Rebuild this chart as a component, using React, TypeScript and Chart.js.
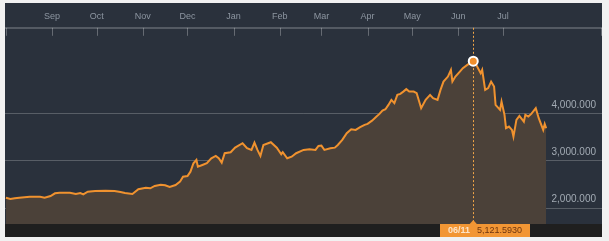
import React, { useEffect, useRef } from "react";
import { Chart, registerables } from "chart.js";

Chart.register(...registerables);

// ---- data ----
const START_DATE = "2014-08-01";
// trading-day offsets (days since START_DATE)
const dayOffsets = [
  0, 3, 6, 9, 16, 23, 26, 30, 33, 36, 43, 47, 50, 52, 55, 60, 67, 73, 77, 80,
  85, 89, 94, 97, 100, 104, 107, 110, 114, 117, 119, 122, 124, 126, 128, 129, 132, 135, 138, 141,
  143, 145, 147, 151, 154, 159, 162, 165, 167, 169, 171, 173, 178, 182, 185, 186, 189, 192, 195, 200,
  204, 208, 210, 212, 214, 218, 221, 223, 226, 229, 232, 235, 238, 241, 243, 246, 249, 251, 253, 255,
  257, 259, 261, 263, 265, 267, 269, 271, 274, 276, 279, 282, 285, 287, 290, 292, 294, 297, 299, 300,
  302, 305, 307, 310, 314, 316, 319, 320, 322, 324, 326, 328, 329, 332, 333, 335, 336, 338, 340, 341,
  343, 345, 348, 349, 351, 353, 356, 358, 361, 362, 363,
];
const closeValues = [
  2219, 2191, 2206, 2219, 2240, 2240, 2219, 2255, 2313, 2326, 2326, 2298, 2319, 2291, 2347, 2362, 2368, 2362, 2340, 2319,
  2298, 2398, 2432, 2419, 2468, 2496, 2483, 2447, 2489, 2560, 2666, 2681, 2772, 2951, 3021, 2879, 2915, 2951, 3057, 3106,
  3057, 2964, 3164, 3185, 3283, 3377, 3270, 3234, 3389, 3234, 3106, 3340, 3398, 3283, 3143, 3185, 3057, 3091, 3164, 3234,
  3249, 3234, 3319, 3326, 3234, 3270, 3283, 3340, 3447, 3589, 3674, 3660, 3717, 3766, 3787, 3857, 3943, 4000, 4070, 4100,
  4191, 4298, 4228, 4404, 4426, 4474, 4526, 4474, 4474, 4440, 4121, 4298, 4404, 4334, 4298, 4511, 4687, 4794, 4936, 4687,
  4794, 4900, 4972, 5043, 5121.593, 5043, 4866, 4936, 4511, 4547, 4687, 4581, 4191, 4085, 4262, 3979, 3696, 3730, 3660, 3517,
  3872, 3957, 3836, 3979, 3943, 4000, 4121, 3909, 3660, 3787, 3696,
];
const monthStarts = [
  "2014-09-01", "2014-10-01", "2014-11-01", "2014-12-01", "2015-01-01", "2015-02-01",
  "2015-03-01", "2015-04-01", "2015-05-01", "2015-06-01", "2015-07-01",
];
const monthLabels = ["Sep", "Oct", "Nov", "Dec", "Jan", "Feb", "Mar", "Apr", "May", "Jun", "Jul"];
const yTickValues = [2000, 3000, 4000];
const highlightDate = "06/11";
const highlightDay = 314;

// ---- helpers ----
const DAY_MS = 86400000;
const toDay = (s: string) => Math.round((Date.parse(s) - Date.parse(START_DATE)) / DAY_MS);
const monthDays = monthStarts.map(toDay);
const PANEL = { left: 5, top: 3, right: 602, bottom: 237 };
const FONT = '"Liberation Sans", Arial, sans-serif';

const framePlugin = {
  id: "frame",
  beforeDraw(chart: any) {
    const { ctx, width, height, chartArea: ca } = chart;
    ctx.save();
    ctx.fillStyle = "#f1f1f1";
    ctx.fillRect(0, 0, width, height);
    ctx.fillStyle = "#2a313c";
    ctx.fillRect(PANEL.left, PANEL.top, PANEL.right - PANEL.left, PANEL.bottom - PANEL.top);
    ctx.fillStyle = "#1f1f1f";
    ctx.fillRect(PANEL.left, ca.bottom, PANEL.right - PANEL.left, PANEL.bottom - ca.bottom);
    ctx.restore();
  },
  afterDatasetsDraw(chart: any) {
    const { ctx, chartArea: ca, scales } = chart;
    const idx = dayOffsets.indexOf(highlightDay);
    const px = Math.round(scales.x.getPixelForValue(highlightDay)) + 0.5;
    const py = scales.y.getPixelForValue(closeValues[idx]);
    ctx.save();
    ctx.strokeStyle = "#f2a546";
    ctx.lineWidth = 1;
    ctx.setLineDash([2, 2]);
    ctx.beginPath();
    ctx.moveTo(px, ca.top);
    ctx.lineTo(px, py - 7);
    ctx.moveTo(px, py + 7);
    ctx.lineTo(px, ca.bottom);
    ctx.stroke();
    ctx.restore();
  },
  afterDraw(chart: any) {
    const { ctx, chartArea: ca, scales } = chart;
    const x = scales.x;
    ctx.save();
    ctx.strokeStyle = "rgba(255,255,255,0.28)";
    ctx.lineWidth = 1;
    const tickXs = [PANEL.left + 1, ...monthDays.map((d) => x.getPixelForValue(d)), PANEL.right - 1];
    tickXs.forEach((p) => {
      const xx = Math.round(p) + 0.5;
      ctx.beginPath();
      ctx.moveTo(xx, ca.top);
      ctx.lineTo(xx, ca.top + 8);
      ctx.stroke();
    });
    // bottom callout
    const idx = dayOffsets.indexOf(highlightDay);
    const valText = closeValues[idx].toLocaleString("en-US", {
      minimumFractionDigits: 4,
      maximumFractionDigits: 4,
    });
    const px = x.getPixelForValue(highlightDay);
    const boxL = Math.round(px - 33);
    const boxT = Math.round(ca.bottom);
    const boxW = 90;
    const boxH = 13;
    ctx.fillStyle = "#f29634";
    ctx.fillRect(boxL, boxT, boxW, boxH);
    ctx.beginPath();
    ctx.moveTo(px - 4, boxT + 0.5);
    ctx.lineTo(px, boxT - 4);
    ctx.lineTo(px + 4, boxT + 0.5);
    ctx.closePath();
    ctx.fill();
    ctx.textBaseline = "middle";
    ctx.textAlign = "left";
    ctx.font = `bold 9px ${FONT}`;
    ctx.fillStyle = "#fde4c8";
    ctx.fillText(highlightDate, boxL + 8, boxT + boxH / 2 + 0.5);
    ctx.font = `9px ${FONT}`;
    ctx.fillStyle = "#6c3510";
    ctx.fillText(valText, boxL + 37, boxT + boxH / 2 + 0.5);
    ctx.restore();
  },
};

export default function App() {
  const canvasRef = useRef<HTMLCanvasElement | null>(null);

  useEffect(() => {
    document.body.style.margin = "0";
    const canvas = canvasRef.current;
    if (!canvas) return;
    const points = dayOffsets.map((d, i) => ({ x: d, y: closeValues[i] }));
    const hiIdx = dayOffsets.indexOf(highlightDay);
    const chart = new Chart(canvas, {
      type: "line",
      data: {
        datasets: [
          {
            data: points,
            borderColor: "#f0922f",
            borderWidth: 2,
            backgroundColor: "#4b4139",
            fill: "start",
            tension: 0,
            pointRadius: (c: any) => (c.dataIndex === hiIdx ? 4.5 : 0),
            pointHoverRadius: 0,
            pointBackgroundColor: "#ef8e2c",
            pointBorderColor: "#ffffff",
            pointBorderWidth: 2,
          },
        ],
      },
      options: {
        responsive: false,
        devicePixelRatio: 1,
        animation: false,
        events: [],
        layout: { padding: { left: 5, right: 7, top: 5, bottom: 17 } },
        plugins: { legend: { display: false }, tooltip: { enabled: false } },
        scales: {
          x: {
            type: "linear",
            position: "top",
            min: -0.6,
            max: 400.5,
            afterBuildTicks: (s: any) => {
              s.ticks = monthDays.map((v) => ({ value: v }));
            },
            grid: { display: true, drawOnChartArea: false, drawTicks: false },
            border: { display: true, color: "rgba(255,255,255,0.2)", width: 2 },
            ticks: {
              autoSkip: false,
              maxRotation: 0,
              padding: 6,
              color: "#8d96a1",
              font: { size: 9, family: FONT },
              callback: (_v: any, i: number) => monthLabels[i],
            },
          },
          y: {
            position: "right",
            min: 1660,
            max: 5830,
            z: 1,
            afterBuildTicks: (s: any) => {
              s.ticks = yTickValues.map((v) => ({ value: v }));
            },
            afterFit: (s: any) => {
              s.width = 0;
            },
            grid: { color: "rgba(255,255,255,0.22)", lineWidth: 1, drawTicks: false },
            border: { display: false },
            ticks: {
              mirror: true,
              padding: -6,
              labelOffset: -9,
              color: "#a3abb4",
              font: { size: 10, family: FONT },
              callback: (v: any) =>
                Number(v).toLocaleString("en-US", { minimumFractionDigits: 3, maximumFractionDigits: 3 }),
            },
          },
        },
      },
      plugins: [framePlugin],
    } as any);
    return () => chart.destroy();
  }, []);

  return (
    <div style={{ width: 609, height: 241 }}>
      <canvas ref={canvasRef} width={609} height={241} style={{ display: "block" }} />
    </div>
  );
}
